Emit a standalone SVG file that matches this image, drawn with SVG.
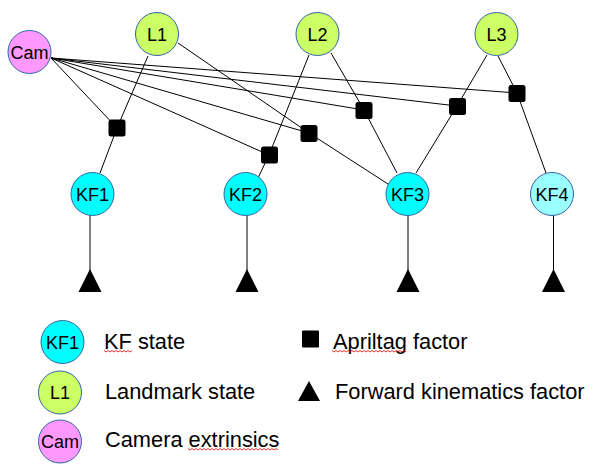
<svg xmlns="http://www.w3.org/2000/svg" width="602" height="473" viewBox="0 0 602 473">
<style>
.n{stroke:#3465a4;stroke-width:1}
.kf{fill:#00ffff}
.kf4{fill:#99ffff}
.lm{fill:#ccff66}
.cam{fill:#ff99ff}
.lbl{font-family:"Liberation Sans",Arial,sans-serif;font-size:18px;fill:#000;text-anchor:middle}
.leg{font-family:"Liberation Sans",Arial,sans-serif;font-size:21.8px;fill:#000}
.e{stroke:#000;stroke-width:1;fill:none}
.f{fill:#000}
.sq{fill:none;stroke:#e00000;stroke-width:0.8}
</style>
<rect width="602" height="473" fill="#fff"/>
<g id="connectors">
  <line class="e" x1="51" y1="58" x2="117" y2="128"/>
  <line class="e" x1="51" y1="58" x2="269" y2="155"/>
  <line class="e" x1="51" y1="58" x2="309" y2="133"/>
  <line class="e" x1="51" y1="58" x2="364" y2="110"/>
  <line class="e" x1="51" y1="58" x2="457" y2="106"/>
  <line class="e" x1="51" y1="58" x2="517" y2="93"/>
  <line class="e" x1="148" y1="56" x2="117" y2="128"/>
  <line class="e" x1="178" y1="43" x2="309" y2="133"/>
  <line class="e" x1="309" y1="55" x2="269" y2="155"/>
  <line class="e" x1="331" y1="53" x2="364" y2="110"/>
  <line class="e" x1="487" y1="55" x2="457" y2="106"/>
  <line class="e" x1="498" y1="56" x2="517" y2="93"/>
  <line class="e" x1="117" y1="128" x2="100" y2="173"/>
  <line class="e" x1="269" y1="155" x2="258" y2="178"/>
  <line class="e" x1="309" y1="133" x2="388" y2="184"/>
  <line class="e" x1="364" y1="110" x2="397" y2="173"/>
  <line class="e" x1="457" y1="106" x2="416" y2="173"/>
  <line class="e" x1="517" y1="93" x2="546" y2="173"/>
  <line class="e" x1="90" y1="215" x2="90" y2="272"/>
  <line class="e" x1="247" y1="215" x2="247" y2="272"/>
  <line class="e" x1="408" y1="215" x2="408" y2="272"/>
  <line class="e" x1="553.5" y1="215" x2="553.5" y2="272"/>
</g>
<g id="factors">
  <rect id="af1" class="f" x="108.5" y="119.5" width="17" height="17" rx="2.5"/>
  <rect id="af2" class="f" x="261" y="146.5" width="17" height="17" rx="2.5"/>
  <rect id="af3" class="f" x="300.5" y="125" width="17" height="17" rx="2.5"/>
  <rect id="af4" class="f" x="355.5" y="102" width="17" height="17" rx="2.5"/>
  <rect id="af5" class="f" x="449" y="98" width="17" height="17" rx="2.5"/>
  <rect id="af6" class="f" x="508.5" y="85" width="17" height="17" rx="2.5"/>
  <polygon id="fk1" class="f" points="90,269 78.5,292 101.5,292"/>
  <polygon id="fk2" class="f" points="247,269 235.5,292 258.5,292"/>
  <polygon id="fk3" class="f" points="408,269 396.5,292 419.5,292"/>
  <polygon id="fk4" class="f" points="553.5,269 542,292 565,292"/>
</g>
<g id="Cam"><circle class="n cam" cx="29.5" cy="52" r="21.5"/><text class="lbl" x="29.5" y="58.5">Cam</text></g>
<g id="L1"><circle class="n lm" cx="157" cy="34" r="21.5"/><text class="lbl" x="157" y="40.5">L1</text></g>
<g id="L2"><circle class="n lm" cx="317.5" cy="34" r="21.5"/><text class="lbl" x="317.5" y="40.5">L2</text></g>
<g id="L3"><circle class="n lm" cx="496.5" cy="34" r="21.5"/><text class="lbl" x="496.5" y="40.5">L3</text></g>
<g id="KF1"><circle class="n kf" cx="92.5" cy="194" r="21.5"/><text class="lbl" x="92.5" y="200.5">KF1</text></g>
<g id="KF2"><circle class="n kf" cx="245.5" cy="194" r="21.5"/><text class="lbl" x="245.5" y="200.5">KF2</text></g>
<g id="KF3"><circle class="n kf" cx="407.5" cy="194" r="21.5"/><text class="lbl" x="407.5" y="200.5">KF3</text></g>
<g id="KF4"><circle class="n kf4" cx="552" cy="194" r="21.5"/><text class="lbl" x="552" y="200.5">KF4</text></g>
<g id="legend">
  <g id="leg-kf"><circle class="n kf" cx="62.5" cy="342" r="21.5"/><text class="lbl" x="62.5" y="348.5">KF1</text></g>
  <text class="leg" x="104" y="348.5">KF state</text>
  <g id="leg-lm"><circle class="n lm" cx="60" cy="392.5" r="21.5"/><text class="lbl" x="60" y="399">L1</text></g>
  <text class="leg" x="105" y="398.5">Landmark state</text>
  <g id="leg-cam"><circle class="n cam" cx="60" cy="441.5" r="21.5"/><text class="lbl" x="60" y="448">Cam</text></g>
  <text class="leg" x="105" y="446.5">Camera extrinsics</text>
  <rect class="f" x="302" y="330.5" width="17" height="17" rx="1"/>
  <text class="leg" x="333" y="348.5">Apriltag factor</text>
  <polygon class="f" points="309,381 298,401 320,401"/>
  <text class="leg" x="335" y="398.5">Forward kinematics factor</text>
  <path class="sq" d="M104,350.5 l2,1.5 l2,-1.5 l2,1.5 l2,-1.5 l2,1.5 l2,-1.5 l2,1.5 l2,-1.5 l2,1.5 l2,-1.5 l2,1.5 l2,-1.5 l2,1.5 l2,-1.5"/>
  <path class="sq" d="M332,350.5 l2,1.5 l2,-1.5 l2,1.5 l2,-1.5 l2,1.5 l2,-1.5 l2,1.5 l2,-1.5 l2,1.5 l2,-1.5 l2,1.5 l2,-1.5 l2,1.5 l2,-1.5 l2,1.5 l2,-1.5 l2,1.5 l2,-1.5 l2,1.5 l2,-1.5 l2,1.5 l2,-1.5 l2,1.5 l2,-1.5 l2,1.5 l2,-1.5 l2,1.5 l2,-1.5 l2,1.5 l2,-1.5 l2,1.5 l2,-1.5 l2,1.5 l2,-1.5 l2,1.5 l2,-1.5 l2,1.5"/>
  <path class="sq" d="M188,448.5 l2,1.5 l2,-1.5 l2,1.5 l2,-1.5 l2,1.5 l2,-1.5 l2,1.5 l2,-1.5 l2,1.5 l2,-1.5 l2,1.5 l2,-1.5 l2,1.5 l2,-1.5 l2,1.5 l2,-1.5 l2,1.5 l2,-1.5 l2,1.5 l2,-1.5 l2,1.5 l2,-1.5 l2,1.5 l2,-1.5 l2,1.5 l2,-1.5 l2,1.5 l2,-1.5 l2,1.5 l2,-1.5 l2,1.5 l2,-1.5 l2,1.5 l2,-1.5 l2,1.5 l2,-1.5 l2,1.5 l2,-1.5 l2,1.5 l2,-1.5 l2,1.5 l2,-1.5 l2,1.5 l2,-1.5 l2,1.5"/>
</g>
</svg>
